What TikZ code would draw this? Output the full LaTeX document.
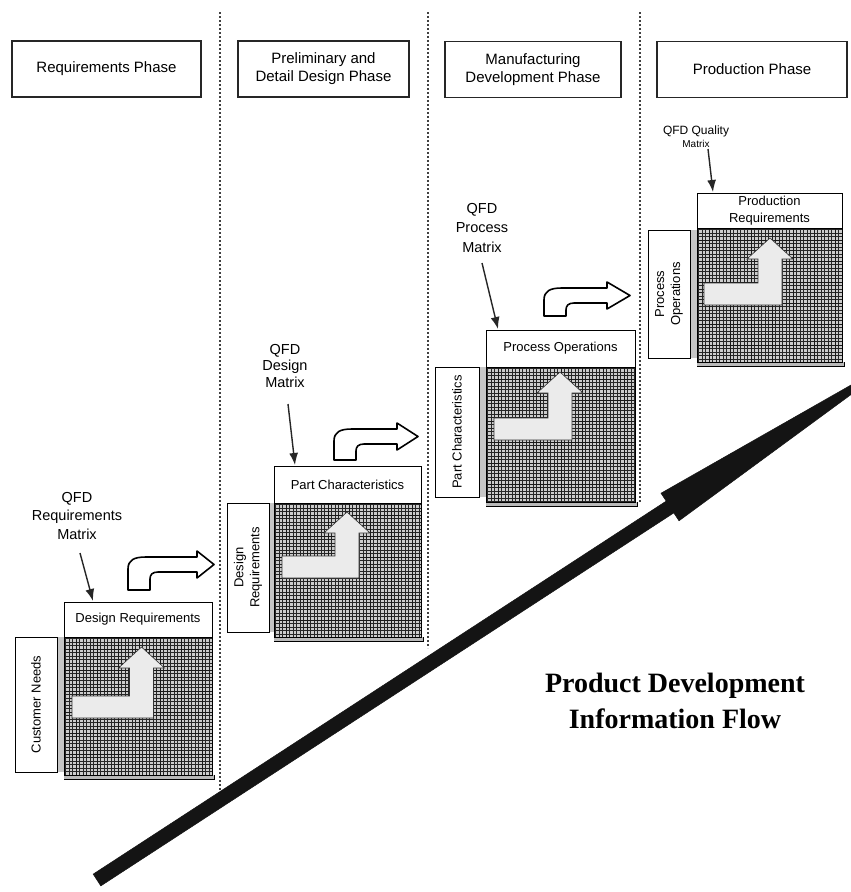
\documentclass[tikz,border=0pt]{standalone}
\usepackage{fontspec}
\newfontfamily\labsf{Liberation Sans}
\newfontfamily\titlef{Liberation Serif}
\usetikzlibrary{calc,arrows.meta}

\tikzset{
  phasebox/.style={draw=black!85, line width=1.4pt, minimum height=56pt, align=center,
    font=\labsf\fontsize{15}{18}\selectfont, inner sep=2pt},
  mhead/.style={draw=black, line width=1pt, fill=white, align=center,
    font=\labsf\fontsize{13}{16}\selectfont, inner sep=1pt},
  sidebox/.style={draw=black, line width=1pt, fill=white, align=center, rotate=90,
    font=\labsf\fontsize{13}{16}\selectfont, inner sep=1pt},
  qfdlab/.style={align=center, font=\labsf\fontsize{14.5}{18}\selectfont, inner sep=1pt},
  phaseline/.style={draw=black!75, line width=1.3pt, dash pattern=on 2pt off 2pt},
  qfdarrow/.style={draw=black!85, line width=1.4pt, -{Latex[length=12pt,width=9pt]}},
  gridl/.style={black!85, line width=0.9pt},
  gridthick/.style={black!90, line width=1.3pt},
  larrow/.style={fill=white!92!black, draw=black!80, line width=0.6pt},
  bent/.style={fill=white, draw=black, line width=1.6pt, line join=round},
  bigarrow/.style={fill=black!92, draw=black!92, line width=0.5pt, line join=miter},
  strip/.style={fill=gray!45},
  titletext/.style={align=center, font=\titlef\bfseries\fontsize{28}{36}\selectfont, inner sep=0pt},
}

% grid texture of a matrix: x0,y0,x1,y1
\newcommand\QGrid[4]{%
  \fill[gray!40] (#1,#2) rectangle (#3,#4);
  \begin{scope}
    \clip (#1,#2) rectangle (#3,#4);
    \foreach \i in {0,...,44}{
      \draw[gridl] ({#1+1.5+3.5*\i},#2) -- ({#1+1.5+3.5*\i},#4);
      \draw[gridl] (#1,{#2+1.5+3.5*\i}) -- (#3,{#2+1.5+3.5*\i});
    }
    \foreach \i in {0,...,8}{
      \draw[gridthick] ({#1+12.5+21*\i},#2) -- ({#1+12.5+21*\i},#4);
      \draw[gridthick] (#1,{#2+12.5+21*\i}) -- (#3,{#2+12.5+21*\i});
    }
  \end{scope}
  \fill[gray!55] (#1,#4) rectangle ({#3+2},{#4+4});
  \draw[black, line width=1pt] (#1,#2) rectangle (#3,#4);
  \draw[black, line width=0.8pt] (#1,{#4+4}) -- ({#3+2},{#4+4}) -- ({#3+2},#4);
}
% L-shaped arrow: shaft centre x, tip y, bottom y, bar left x
\newcommand\LArrow[4]{%
  \path[larrow] (#4,{#3-22}) -- ({#1-12},{#3-22}) -- ({#1-12},{#2+21}) -- ({#1-23},{#2+21})
    -- (#1,#2) -- ({#1+23},{#2+21}) -- ({#1+12},{#2+21}) -- ({#1+12},#3) -- (#4,#3) -- cycle;
}
% bent hollow arrow: stem left x, stem bottom y, top y, head back x, tip x
\newcommand\BentArrow[5]{%
  \path[bent] (#1,#2) -- (#1,{#3+12}) .. controls (#1,{#3+3}) and ({#1+6},#3) .. ({#1+18},#3)
    -- (#4,#3) -- (#4,{#3-6}) -- (#5,{#3+7.5}) -- (#4,{#3+21}) -- (#4,{#3+15})
    -- ({#1+30},{#3+15}) .. controls ({#1+24},{#3+15}) and ({#1+22},{#3+18}) .. ({#1+22},{#3+22})
    -- ({#1+22},#2) -- cycle;
}

\begin{document}
\begin{tikzpicture}[x=1pt,y=-1pt]
\useasboundingbox (0,0) rectangle (851,892);
\clip (0,0) rectangle (851,892);
\fill[white] (0,0) rectangle (851,892);

% phase separators
\draw[phaseline] (220,12) -- (220,795);
\draw[phaseline] (428,12) -- (428,648);
\draw[phaseline] (640,12) -- (640,503);

% phase headers
\node[phasebox, minimum width=189pt] (ph1) at (106.5,69) {Requirements Phase};
\node[phasebox, minimum width=171pt] (ph2) at (323.5,69) {Preliminary and\\Detail Design Phase};
\node[phasebox, minimum width=176pt] (ph3) at (533,69.5) {Manufacturing\\Development Phase};
\node[phasebox, minimum width=190pt] (ph4) at (752,69.5) {Production Phase};

% big information-flow arrow
\coordinate (tail) at (97,880);
\coordinate (tip) at (909,352);
\path[bigarrow] (93.2,874.1) -- (666.2,501.1) -- (661,493.2) -- (tip)
  -- (679,520.8) -- (673.8,512.9) -- (100.8,885.9) -- cycle;

% ---------- matrix 1 ----------
\QGrid{64}{637}{212}{775}
\fill[strip] (57,637) rectangle (64,772);
\node[sidebox, minimum width=135pt, minimum height=42pt] (side1) at (36,704.5) {Customer Needs};
\node[mhead, minimum width=148pt, minimum height=35pt] (hdr1) at (138,619.5) {Design Requirements};
\LArrow{141.5}{647}{718}{72}
\BentArrow{128}{590}{557}{197}{214}
\node[qfdlab] (lab1) at (77,516) {QFD\\Requirements\\Matrix};
\coordinate (a1s) at (80,553);
\coordinate (a1e) at (93,601);
\draw[qfdarrow] (a1s) -- (a1e);

% ---------- matrix 2 ----------
\QGrid{274}{503}{421}{637}
\fill[strip] (269,503) rectangle (274,632);
\node[sidebox, minimum width=129pt, minimum height=42pt] (side2) at (248,567.5) {Design\\Requirements};
\node[mhead, minimum width=147pt, minimum height=37pt] (hdr2) at (347.5,484.5) {Part Characteristics};
\LArrow{347}{512}{578}{282}
\BentArrow{334}{460}{429}{397}{418}
\node[qfdlab, font=\labsf\fontsize{14.5}{16.5}\selectfont] (lab2) at (285,366) {QFD\\Design\\Matrix};
\coordinate (a2s) at (288,404);
\coordinate (a2e) at (295,465);
\draw[qfdarrow] (a2s) -- (a2e);

% ---------- matrix 3 ----------
\QGrid{486}{367}{635}{502}
\fill[strip] (479,367) rectangle (486,497);
\node[sidebox, minimum width=130pt, minimum height=44pt] (side3) at (457,432) {Part Characteristics};
\node[mhead, minimum width=149pt, minimum height=37pt] (hdr3) at (560.5,348.5) {Process Operations};
\LArrow{560}{372}{440}{494}
\BentArrow{544}{316}{288}{607}{630}
\node[qfdlab, font=\labsf\fontsize{14.5}{19.5}\selectfont] (lab3) at (482,228) {QFD\\Process\\Matrix};
\coordinate (a3s) at (482,263);
\coordinate (a3e) at (498,329);
\draw[qfdarrow] (a3s) -- (a3e);

% ---------- matrix 4 ----------
\node[mhead, minimum width=145pt, minimum height=35pt, font=\labsf\fontsize{13}{17}\selectfont] (hdr4) at (769.5,210.5) {Production\\Requirements};
\QGrid{697}{228}{842}{362}
\fill[strip] (690,230) rectangle (697,358);
\node[sidebox, minimum width=128pt, minimum height=42pt] (side4) at (669,294) {Process\\Operations};
\LArrow{770}{238}{305}{704}
\node[qfdlab, font=\labsf\fontsize{12}{13}\selectfont] (lab4) at (696,137) {QFD Quality\\{\fontsize{10}{13}\selectfont Matrix}};
\coordinate (a4s) at (708,149);
\coordinate (a4e) at (713,192);
\draw[qfdarrow] (a4s) -- (a4e);

% title
\node[titletext] (title) at (675,701) {Product Development\\Information Flow};
\end{tikzpicture}
\end{document}
